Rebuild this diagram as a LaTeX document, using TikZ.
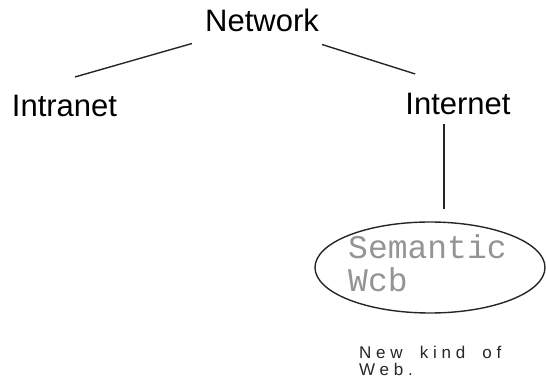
\documentclass[tikz,border=0pt]{standalone}
\usepackage{fontspec}
\usetikzlibrary{shapes.geometric}
\newfontfamily\labelfont{Liberation Sans}
\newfontfamily\monofont{Liberation Mono}
\newfontfamily\notefont[LetterSpace=28,WordSpace=1.8]{Liberation Sans}
\begin{document}
\begin{tikzpicture}[x=1pt,y=-1pt,
  term/.style={font=\labelfont\fontsize{31}{36}\selectfont, inner sep=0pt, anchor=base},
  link/.style={line width=1.4pt, draw=black!85},
  bubble/.style={ellipse, draw=black!85, line width=1.4pt, minimum width=230pt, minimum height=91pt, inner sep=0pt}]
  \useasboundingbox (0,0) rectangle (546,379);

  % tree labels
  \node[term] (net) at (262,32) {Network};
  \node[term] (intra) at (64.5,117) {Intranet};
  \node[term] (inter) at (458,115) {Internet};

  % the Semantic Web bubble and its text
  \node[bubble] (sw) at (430,267.5) {};
  \node[inner sep=0pt, anchor=base west, text=black!42,
        font=\monofont\fontsize{33}{29}\selectfont] (swtext) at (348,259)
    {\begin{tabular}[t]{@{}l@{}}Semantic\\Wcb\end{tabular}};

  % note below the bubble
  \node[inner sep=0pt, anchor=base west, text=black!85,
        font=\notefont\fontsize{17}{17}\selectfont] (note) at (359,358)
    {\begin{tabular}[t]{@{}l@{}}New kind of\\Web.\end{tabular}};

  % connectors
  \draw[link] ([shift={(-13,11)}]net.south west) -- ([shift={(10.5,-18.5)}]intra.north);
  \draw[link] ([shift={(3,12)}]net.south east) -- ([shift={(10,-19.5)}]inter.north west);
  \draw[link] ([shift={(-14,8)}]inter.south) -- ([shift={(14,-12)}]sw.north);
\end{tikzpicture}
\end{document}
